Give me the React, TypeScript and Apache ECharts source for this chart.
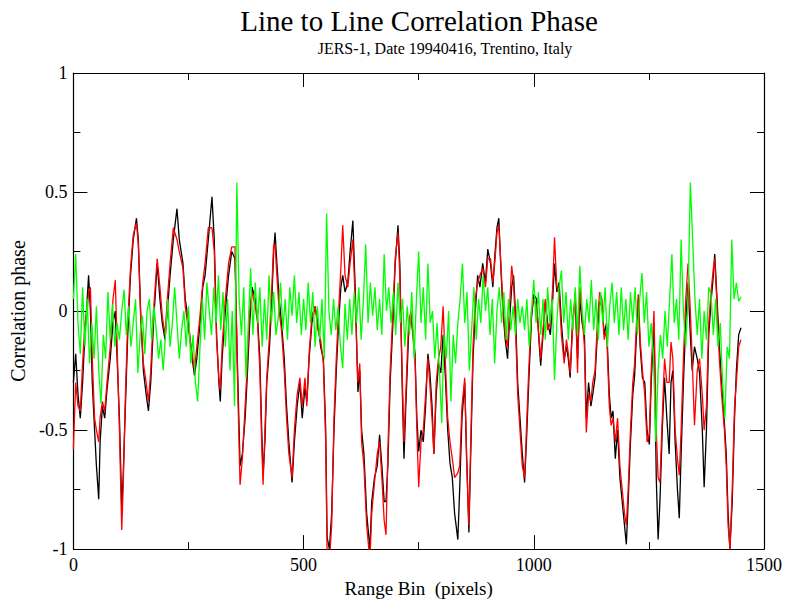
import React, { useEffect, useRef } from "react";
import * as echarts from "echarts";

const chartTitle = "Line to Line Correlation Phase";
const chartSubtitle = "JERS-1, Date 19940416, Trentino, Italy";
const xAxisName = "Range Bin  (pixels)";
const yAxisName = "Correlation phase";

const blackBins = [
  0, 5, 10, 15, 20, 25, 30, 33, 37, 41, 46, 50, 55, 58, 63, 68, 73, 80, 86, 91,
  95, 100, 105, 108, 113, 118, 124, 130, 137, 141, 146, 152, 158, 163, 168, 174, 182, 188, 193, 199,
  204, 210, 217, 225, 230, 238, 243, 250, 258, 263, 268, 275, 281, 286, 293, 301, 306, 311, 316, 319,
  323, 330, 337, 344, 351, 356, 362, 367, 373, 377, 383, 388, 395, 400, 405, 409, 412, 416, 420, 426,
  431, 435, 438, 442, 447, 452, 458, 463, 468, 475, 480, 486, 492, 497, 503, 507, 512, 518, 525, 531,
  537, 543, 548, 551, 556, 561, 566, 571, 576, 581, 585, 590, 596, 601, 607, 612, 618, 622, 626, 631,
  637, 644, 648, 654, 660, 665, 670, 675, 679, 683, 688, 694, 699, 705, 709, 714, 718, 722, 728, 733,
  738, 742, 746, 750, 755, 760, 765, 770, 774, 779, 783, 788, 793, 798, 803, 808, 813, 818, 823, 828,
  835, 839, 844, 850, 854, 859, 863, 868, 873, 878, 883, 889, 895, 900, 906, 911, 916, 920, 924, 928,
  933, 938, 943, 947, 952, 956, 960, 965, 970, 975, 980, 984, 989, 995, 1000, 1006, 1011, 1015, 1020, 1025,
  1030, 1036, 1041, 1045, 1050, 1055, 1060, 1066, 1071, 1075, 1079, 1084, 1090, 1095, 1100, 1105, 1110, 1114, 1119, 1124,
  1128, 1133, 1138, 1143, 1148, 1153, 1158, 1164, 1168, 1172, 1177, 1182, 1187, 1192, 1197, 1201, 1205, 1210, 1215, 1219,
  1223, 1227, 1231, 1236, 1241, 1246, 1251, 1255, 1261, 1266, 1270, 1274, 1279, 1284, 1289, 1294, 1298, 1302, 1307, 1312,
  1316, 1320, 1325, 1330, 1335, 1340, 1344, 1349, 1355, 1360, 1366, 1370, 1375, 1380, 1385, 1390, 1393, 1398, 1403, 1408,
  1414, 1418, 1422, 1426, 1431, 1436, 1440, 1445, 1450,
];

const blackValues = [
  -0.3, -0.18, -0.35, -0.45, -0.3, -0.1, 0.05, 0.15, 0.0, -0.3, -0.5, -0.65, -0.79, -0.55, -0.4, -0.45, -0.33, -0.2, -0.05, 0.0,
  -0.2, -0.45, -0.82, -0.7, -0.4, -0.1, 0.15, 0.3, 0.39, 0.3, 0.0, -0.25, -0.35, -0.42, -0.3, -0.05, 0.2, 0.05, -0.05, -0.12,
  0.0, 0.15, 0.3, 0.43, 0.3, 0.2, 0.05, -0.05, -0.2, -0.27, -0.2, -0.05, 0.1, 0.15, 0.3, 0.48, 0.3, -0.1, -0.3, -0.38,
  -0.2, 0.0, 0.15, 0.25, 0.22, -0.2, -0.65, -0.6, -0.45, -0.3, -0.05, 0.1, 0.05, -0.03, -0.2, -0.5, -0.69, -0.55, -0.3, -0.15,
  0.05, 0.25, 0.33, 0.2, 0.05, -0.05, -0.2, -0.4, -0.55, -0.72, -0.55, -0.4, -0.3, -0.45, -0.32, -0.38, -0.2, -0.05, 0.02, -0.05,
  -0.15, -0.2, -0.5, -0.95, -1.0, -0.85, -0.5, -0.25, -0.05, 0.1, 0.15, 0.08, 0.12, 0.25, 0.38, 0.1, -0.34, -0.25, -0.5, -0.6,
  -0.85, -1.0, -0.8, -0.7, -0.65, -0.52, -0.65, -0.8, -0.8, -0.65, -0.3, -0.05, 0.2, 0.36, 0.2, -0.3, -0.62, -0.4, -0.1, -0.02,
  -0.1, -0.18, -0.45, -0.59, -0.5, -0.55, -0.4, -0.18, -0.25, -0.4, -0.6, -0.35, -0.22, -0.26, -0.1, -0.28, -0.5, -0.64, -0.7, -0.85,
  -0.96, -0.75, -0.45, -0.3, -0.6, -0.93, -0.6, -0.2, 0.0, 0.15, 0.1, 0.2, 0.12, 0.26, 0.2, 0.1, 0.25, 0.35, 0.39, 0.2,
  0.0, -0.12, -0.2, -0.05, 0.1, 0.15, 0.0, -0.3, -0.45, -0.6, -0.72, -0.55, -0.3, -0.03, 0.07, 0.05, -0.12, -0.23, -0.1, 0.04,
  -0.05, -0.1, 0.05, 0.2, 0.08, 0.12, -0.05, -0.2, -0.15, -0.2, -0.28, -0.05, 0.05, -0.2, 0.05, -0.05, -0.1, -0.45, -0.3, -0.4,
  -0.35, -0.28, -0.1, 0.04, 0.02, -0.1, -0.05, -0.35, -0.45, -0.42, -0.62, -0.5, -0.7, -0.8, -0.9, -0.98, -0.8, -0.55, -0.35, -0.27,
  -0.1, 0.05, -0.15, -0.28, -0.3, -0.5, -0.56, -0.3, -0.05, -0.7, -0.96, -0.8, -0.5, -0.28, -0.45, -0.6, -0.3, -0.25, -0.55, -0.75,
  -0.87, -0.6, -0.3, -0.05, 0.12, -0.1, -0.25, -0.15, -0.2, -0.26, -0.5, -0.74, -0.5, -0.1, 0.04, 0.15, 0.24, 0.05, -0.15, -0.3,
  -0.47, -0.6, -0.85, -1.0, -0.8, -0.45, -0.25, -0.1, -0.07,
];

const redValues = [
  -0.58, -0.3, -0.4, -0.42, -0.22, -0.05, 0.0, 0.08, 0.1, -0.2, -0.45, -0.5, -0.55, -0.45, -0.38, -0.42, -0.3, -0.15, 0.05, 0.13,
  -0.15, -0.5, -0.92, -0.75, -0.35, -0.05, 0.18, 0.32, 0.37, 0.28, -0.02, -0.22, -0.3, -0.38, -0.25, 0.0, 0.22, 0.1, -0.02, -0.1,
  0.05, 0.2, 0.35, 0.3, 0.25, 0.18, 0.02, -0.08, -0.18, -0.25, -0.15, -0.02, 0.12, 0.2, 0.35, 0.35, 0.25, -0.12, -0.28, -0.33,
  -0.15, 0.05, 0.2, 0.27, 0.27, -0.25, -0.73, -0.62, -0.4, -0.25, 0.0, 0.08, 0.02, -0.05, -0.25, -0.55, -0.73, -0.5, -0.28, -0.1,
  0.1, 0.28, 0.28, 0.15, 0.0, -0.08, -0.25, -0.45, -0.6, -0.7, -0.5, -0.35, -0.28, -0.4, -0.28, -0.4, -0.18, -0.02, 0.02, -0.08,
  -0.12, -0.22, -0.55, -1.0, -1.05, -0.9, -0.45, -0.2, 0.0, 0.18, 0.36, 0.15, 0.1, 0.2, 0.3, 0.05, -0.3, -0.22, -0.55, -0.65,
  -0.9, -1.05, -0.85, -0.72, -0.6, -0.55, -0.7, -0.88, -0.94, -0.6, -0.25, 0.0, 0.22, 0.33, 0.15, -0.25, -0.55, -0.35, -0.05, 0.0,
  -0.12, -0.2, -0.5, -0.74, -0.55, -0.5, -0.35, -0.2, -0.3, -0.45, -0.6, -0.3, -0.2, -0.15, 0.02, -0.22, -0.45, -0.55, -0.62, -0.7,
  -0.68, -0.65, -0.4, -0.28, -0.62, -0.9, -0.55, -0.15, 0.05, 0.12, 0.15, 0.18, 0.1, 0.22, 0.22, 0.12, 0.22, 0.33, 0.36, 0.22,
  0.02, -0.1, -0.15, 0.0, 0.19, 0.12, -0.05, -0.35, -0.5, -0.65, -0.7, -0.5, -0.25, 0.0, 0.05, 0.02, -0.1, -0.2, -0.08, 0.05,
  -0.08, -0.05, 0.1, 0.31, 0.1, 0.08, -0.1, -0.22, -0.12, -0.18, -0.26, -0.08, 0.08, -0.26, 0.1, -0.02, -0.15, -0.51, -0.35, -0.38,
  -0.3, -0.25, -0.05, 0.08, 0.05, -0.12, -0.08, -0.4, -0.48, -0.45, -0.55, -0.45, -0.65, -0.75, -0.85, -0.9, -0.75, -0.5, -0.3, -0.22,
  -0.05, 0.07, -0.12, -0.25, -0.35, -0.55, -0.52, -0.25, 0.0, -0.5, -0.7, -0.72, -0.45, -0.2, -0.3, -0.3, -0.13, -0.2, -0.5, -0.62,
  -0.69, -0.5, -0.2, 0.05, 0.2, 0.0, -0.2, -0.48, -0.25, -0.2, -0.35, -0.5, -0.4, -0.05, 0.08, 0.18, 0.22, 0.02, -0.2, -0.35,
  -0.5, -0.65, -0.9, -1.0, -0.75, -0.4, -0.3, -0.15, -0.12,
];

const greenStep = 5;
const greenValues = [
  0.05, 0.24, -0.05, -0.18, 0.1, -0.15, 0.05, -0.22, -0.05, -0.2, 0.02, -0.25, -0.39, -0.1, -0.2, 0.08, -0.12, 0.03, -0.15, -0.05,
  -0.12, 0.0, 0.09, -0.1, 0.02, -0.15, -0.05, 0.05, -0.26, -0.1, -0.02, -0.18, 0.0, 0.05, -0.12, 0.02, -0.08, -0.2, -0.12, -0.25,
  -0.1, 0.05, -0.15, -0.05, 0.1, -0.05, -0.2, -0.08, 0.0, -0.15, 0.02, -0.22, -0.1, -0.3, -0.38, -0.15, 0.05, -0.12, 0.12, 0.0,
  -0.1, 0.1, -0.05, 0.15, -0.08, 0.08, -0.15, 0.05, -0.25, 0.0, -0.4, 0.54, 0.05, -0.1, 0.1, -0.28, -0.05, 0.18, -0.1, 0.12,
  -0.05, 0.1, -0.15, 0.05, -0.12, 0.15, -0.05, 0.08, -0.1, -0.03, 0.12, -0.08, 0.05, -0.12, 0.1, -0.02, 0.15, -0.05, 0.08, -0.1,
  0.05, -0.08, 0.12, -0.05, 0.08, -0.15, 0.02, -0.12, 0.05, -0.2, 0.41, 0.0, -0.1, 0.05, -0.08, 0.02, -0.15, -0.24, 0.03, -0.12,
  0.05, -0.1, 0.08, -0.05, 0.1, -0.12, 0.05, 0.28, -0.05, 0.12, -0.02, 0.1, -0.08, 0.05, -0.1, 0.24, 0.0, 0.1, -0.05, 0.08,
  -0.1, 0.12, -0.05, 0.05, -0.15, 0.02, -0.1, 0.08, -0.2, 0.05, 0.25, -0.05, 0.1, -0.12, 0.2, -0.05, 0.0, -0.2, -0.05, -0.25,
  -0.47, -0.1, -0.2, 0.0, -0.38, -0.1, -0.22, -0.05, 0.05, 0.2, -0.05, 0.08, -0.25, -0.08, 0.1, -0.12, 0.05, -0.05, 0.15, 0.0,
  0.1, -0.1, 0.05, -0.22, 0.0, 0.1, -0.05, 0.08, -0.12, 0.05, -0.08, 0.02, -0.1, 0.05, -0.05, 0.02, -0.08, 0.05, -0.15, 0.0,
  0.13, -0.05, 0.08, -0.1, 0.05, -0.12, 0.1, -0.05, 0.05, -0.29, -0.05, 0.1, 0.17, -0.05, 0.08, -0.12, 0.05, -0.08, 0.1, -0.1,
  0.19, 0.0, -0.1, 0.05, -0.05, 0.13, -0.08, 0.05, -0.12, 0.08, -0.05, 0.1, -0.15, 0.02, 0.12, -0.05, 0.08, -0.1, 0.1, -0.08,
  0.05, -0.12, 0.08, -0.05, 0.1, -0.1, 0.05, 0.16, -0.05, 0.08, -0.15, -0.05, -0.2, -0.55, -0.25, -0.1, -0.2, 0.0, -0.15, 0.05,
  0.24, -0.05, 0.05, -0.12, 0.3, 0.0, -0.15, 0.05, 0.54, 0.3, 0.05, -0.1, 0.05, -0.2, 0.0, -0.12, 0.1, 0.07, -0.1, 0.05,
  -0.15, -0.05, -0.3, -0.45, -0.15, -0.2, 0.3, 0.05, 0.12, 0.04, 0.06,
];

const xTicks = { min: 0, max: 1500, interval: 500 };
const yTicks = { min: -1, max: 1, interval: 0.5 };

const FONT = "Liberation Serif";

export default function App() {
  const ref = useRef<HTMLDivElement>(null);
  useEffect(() => {
    if (!ref.current) return;
    const chart = echarts.init(ref.current, null, { renderer: "svg" });
    const blackData = blackBins.map((b, i) => [b, blackValues[i]]);
    const redData = blackBins.map((b, i) => [b, redValues[i]]);
    const greenData = greenValues.map((v, i) => [i * greenStep, v]);

    const tickCommon = {
      axisLine: { show: true, onZero: false, lineStyle: { color: "#000", width: 1.2 } },
      axisTick: { show: true, inside: true, length: 14, lineStyle: { color: "#000", width: 1 } },
      minorTick: { show: true, splitNumber: 2, length: 7, lineStyle: { color: "#000", width: 1 } },
      splitLine: { show: false },
      minorSplitLine: { show: false },
    };
    const labelStyle = { color: "#000", fontFamily: FONT, fontSize: 18 };

    chart.setOption({
      animation: false,
      backgroundColor: "#fff",
      grid: { left: 73, right: 20, top: 73, bottom: 47, show: false },
      graphic: [
        {
          type: "text",
          x: 419,
          y: 21,
          style: {
            text: chartTitle,
            fontFamily: FONT,
            fontSize: 29,
            fill: "#000",
            textAlign: "center",
            textVerticalAlign: "middle",
          },
        },
        {
          type: "text",
          x: 445,
          y: 48,
          style: {
            text: chartSubtitle,
            fontFamily: FONT,
            fontSize: 16,
            fill: "#000",
            textAlign: "center",
            textVerticalAlign: "middle",
          },
        },
      ],
      xAxis: [
        {
          type: "value",
          position: "bottom",
          ...xTicks,
          ...tickCommon,
          axisLabel: { ...labelStyle, margin: 7, formatter: (v: number) => String(v) },
          name: xAxisName,
          nameLocation: "middle",
          nameGap: 26,
          nameTextStyle: { color: "#000", fontFamily: FONT, fontSize: 19 },
        },
        {
          type: "value",
          position: "top",
          ...xTicks,
          ...tickCommon,
          axisLabel: { show: false },
        },
      ],
      yAxis: [
        {
          type: "value",
          position: "left",
          ...yTicks,
          ...tickCommon,
          axisLabel: { ...labelStyle, margin: 6, formatter: (v: number) => String(v) },
          name: yAxisName,
          nameLocation: "middle",
          nameGap: 42,
          nameRotate: 90,
          nameTextStyle: { color: "#000", fontFamily: FONT, fontSize: 20 },
        },
        {
          type: "value",
          position: "right",
          ...yTicks,
          ...tickCommon,
          axisLabel: { show: false },
        },
      ],
      series: [
        {
          type: "line",
          data: blackData,
          showSymbol: false,
          symbol: "none",
          lineStyle: { color: "#000", width: 1.3 },
          clip: true,
        },
        {
          type: "line",
          data: redData,
          showSymbol: false,
          symbol: "none",
          lineStyle: { color: "#ff0000", width: 1.3 },
          clip: true,
        },
        {
          type: "line",
          data: greenData,
          showSymbol: false,
          symbol: "none",
          lineStyle: { color: "#00ff00", width: 1.3 },
          clip: true,
        },
      ],
    });
    return () => chart.dispose();
  }, []);
  return (
    <div
      ref={ref}
      style={{ position: "fixed", left: 0, top: 0, width: 785, height: 603, background: "#fff" }}
    />
  );
}
